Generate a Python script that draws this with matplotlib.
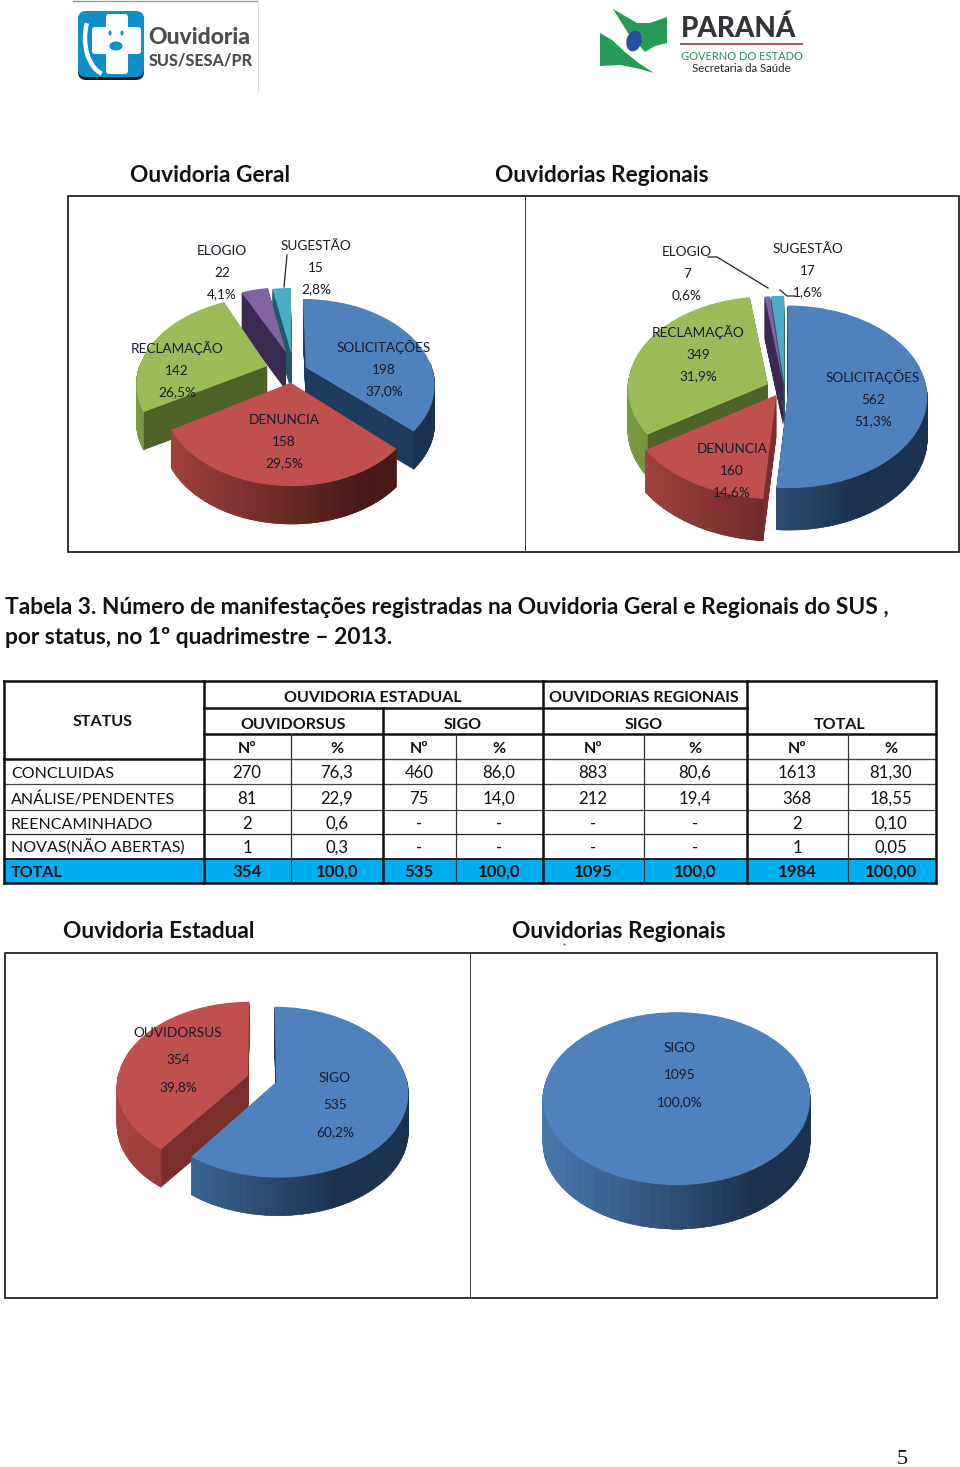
import numpy as np
import matplotlib
matplotlib.use("Agg")
import matplotlib.pyplot as plt
from matplotlib.transforms import Transform, Affine2D
from matplotlib.collections import PolyCollection
from matplotlib.patches import FancyBboxPatch, Polygon, Ellipse, Rectangle, Arc
from matplotlib.colors import to_rgb

# ---------- data ----------
geral_names = ["SOLICITAÇÕES", "DENUNCIA", "RECLAMAÇÃO", "ELOGIO", "SUGESTÃO"]
geral_values = [198, 158, 142, 22, 15]
regionais_names = ["SOLICITAÇÕES", "DENUNCIA", "RECLAMAÇÃO", "ELOGIO", "SUGESTÃO"]
regionais_values = [562, 160, 349, 7, 17]
estadual_names = ["SIGO", "OUVIDORSUS"]
estadual_values = [535, 354]
regionais2_names = ["SIGO"]
regionais2_values = [1095]

table_status = ["CONCLUIDAS", "ANÁLISE/PENDENTES", "REENCAMINHADO", "NOVAS(NÃO ABERTAS)", "TOTAL"]
col_os_n = ["270", "81", "2", "1", "354"]
col_os_p = ["76,3", "22,9", "0,6", "0,3", "100,0"]
col_se_n = ["460", "75", "-", "-", "535"]
col_se_p = ["86,0", "14,0", "-", "-", "100,0"]
col_sr_n = ["883", "212", "-", "-", "1095"]
col_sr_p = ["80,6", "19,4", "-", "-", "100,0"]
col_t_n = ["1613", "368", "2", "1", "1984"]
col_t_p = ["81,30", "18,55", "0,10", "0,05", "100,00"]

# ---------- style ----------
TOP = {"blue": "#4f81bd", "red": "#c0504d", "green": "#9bbb59", "purple": "#8064a2", "teal": "#4bacc6"}
CUT = {"blue": "#1f3b5e", "red": "#7a2f2d", "green": "#4f6228", "purple": "#3a2a52", "teal": "#215968"}
WALL_L = {"blue": "#4a78ad", "red": "#a8443f", "green": "#7c9a42", "purple": "#604a80", "teal": "#3a8ca2"}
WALL_R = {"blue": "#1c3350", "red": "#471a18", "green": "#44541f", "purple": "#2c2040", "teal": "#1a4856"}
FONT = ["Lato", "DejaVu Sans"]

fig = plt.figure(figsize=(9.6, 14.67), dpi=100, facecolor="white")
page = fig.add_axes([0, 0, 1, 1], zorder=20)
page.set_xlim(0, 960)
page.set_ylim(1467, 0)
page.axis("off")
page.patch.set_visible(False)


class Persp(Transform):
    input_dims = output_dims = 2

    def __init__(self, k):
        super().__init__()
        self.k = k

    def transform_non_affine(self, v):
        v = np.asarray(v, float)
        w = 1 + self.k * v[:, 1]
        return np.column_stack([v[:, 0] / w, v[:, 1] / w])


def pie3d(values, colors, cx, cy, rx, ry, k, depth_px, explode, radii=None, shifts=None):
    ax = fig.add_axes([(cx - 1.5 * rx) / 960, 1 - (cy + 1.5 * ry) / 1467,
                       3 * rx / 960, 3 * ry / 1467], zorder=1)
    persp = Persp(k)
    n = len(values)
    d_unit = depth_px / ry
    radii = radii or [1.0] * n
    shifts = shifts or [(0, 0)] * n
    common = dict(startangle=90, counterclock=False, explode=explode,
                  wedgeprops=dict(linewidth=0))

    def place(w, i):
        w.set_radius(radii[i])
        w.set_center((w.center[0] + shifts[i][0] / rx, w.center[1] - shifts[i][1] / ry))

    tops, _ = ax.pie(values, colors=[TOP[c] for c in colors], **common)
    mids = [np.sin(np.deg2rad((w.theta1 + w.theta2) / 2)) for w in tops]
    rank = {i: r for r, i in enumerate(np.argsort(mids)[::-1])}
    steps = int(depth_px * 1.5)
    for layer in range(steps, 0, -1):
        d = d_unit * layer / steps
        ws, _ = ax.pie(values, colors=[CUT[c] for c in colors], **common)
        for i, w in enumerate(ws):
            place(w, i)
            w.set_zorder(10 * rank[i] + 1)
            w.set_transform(persp + Affine2D().translate(0, -d) + ax.transData)
    for i, w in enumerate(tops):
        place(w, i)
        w.set_zorder(10 * rank[i] + 3)
        w.set_transform(persp + ax.transData)
        th = np.deg2rad(np.linspace(w.theta1, w.theta2, 90))
        x = w.center[0] + w.r * np.cos(th)
        y = w.center[1] + w.r * np.sin(th)
        s = 1 + k * y
        X, Y = x / s, y / s
        polys, cols = [], []
        cl, cr = np.array(to_rgb(WALL_L[colors[i]])), np.array(to_rgb(WALL_R[colors[i]]))
        for a in range(len(th) - 1):
            if np.sin(th[a]) > 0.03:
                continue
            polys.append([(X[a], Y[a]), (X[a + 1], Y[a + 1]),
                          (X[a + 1], Y[a + 1] - d_unit), (X[a], Y[a] - d_unit)])
            t = np.clip((X[a] + 1) / 1.55, 0, 1)
            cols.append(cl * (1 - t) + cr * t)
        if polys:
            pc = PolyCollection(polys, facecolors=cols, edgecolors=cols, linewidths=0.4,
                                zorder=10 * rank[i] + 2, clip_on=False)
            ax.add_collection(pc)
    ax.set_aspect("auto")
    ax.set_xlim(-1.5, 1.5)
    ax.set_ylim(-1.5, 1.5)
    ax.axis("off")


pie3d(geral_values, ["blue", "red", "green", "purple", "teal"], 287, 373, 130, 85, 0.19, 38,
      [0.16, 0.16, 0.16, 0.2, 0.2], radii=[0.98, 0.95, 1.0, 1.0, 1.0],
      shifts=[(0, 0), (6, -4), (0, -3), (7, -5), (7, -3)])
pie3d(regionais_values, ["blue", "red", "green", "purple", "teal"], 776, 393, 142, 93, 0.04, 42,
      [0.063, 0.063, 0.07, 0.09, 0.09], radii=[0.98, 1.07, 0.99, 1.0, 1.0],
      shifts=[(3, 0), (5, -3), (1, -6), (9, 0), (9, 0)])
pie3d(estadual_values, ["blue", "red"], 260.5, 1078, 133, 85, 0.12, 38, [0.115, 0.115],
      radii=[0.98, 0.98], shifts=[(1, 1), (2, 1)])
pie3d(regionais2_values, ["blue"], 676.5, 1090, 133, 85.6, 0.1, 44, [0])


def txt(x, y, s, size, weight="normal", ha="left", color="#111111", family=None):
    page.text(x, y, s, fontsize=size, fontweight=weight, ha=ha, va="baseline",
              color=color, family=family or FONT)


def pct(v, values):
    return f"{100 * v / sum(values):.1f}".replace(".", ",") + "%"


def pie_labels(names, values, spots, dy):
    for name, v, (x, y) in zip(names, values, spots):
        for j, s in enumerate([name, str(v), pct(v, values)]):
            txt(x, y + 6 + j * dy, s, 9.8, ha="center", color="#1a1a2a")


pie_labels(geral_names, geral_values,
           [(384, 346), (284, 418), (177, 347), (222, 249), (316, 244)], 21.7)
pie_labels(regionais_names, regionais_values,
           [(873, 376), (732, 447), (698, 331), (687, 250), (808, 247)], 21.7)
pie_labels(estadual_names, estadual_values, [(335, 1076), (178, 1031)], 27)
pie_labels(regionais2_names, regionais2_values, [(680, 1046)], 27)

# leader lines
page.plot([287, 284], [255, 287], color="#222222", lw=0.9)
page.plot([708, 717, 768], [257, 257, 288], color="#222222", lw=0.9)
page.plot([795, 787, 780], [296, 296, 290], color="#222222", lw=0.9)

# frames
for x0, x1, xm, y0, y1 in [(68, 959, 525, 196, 552), (5, 937, 470, 953, 1298)]:
    page.add_patch(Rectangle((x0, y0), x1 - x0, y1 - y0, fill=False, ec="#111111", lw=1.2))
    page.plot([xm, xm], [y0, y1], color="#333333", lw=0.7)

# titles
txt(130, 182, "Ouvidoria Geral", 16.3, "bold", color="#111111")
txt(495, 182, "Ouvidorias Regionais", 16.3, "bold")
txt(63, 938, "Ouvidoria Estadual", 16.3, "bold")
txt(512, 938, "Ouvidorias Regionais", 16.3, "bold")
txt(5, 614, "Tabela 3. Número de manifestações registradas na Ouvidoria Geral e Regionais do SUS ,", 16.4, "bold")
txt(5, 644, "por status, no 1º quadrimestre – 2013.", 16.4, "bold")
txt(902, 1464, "5", 16, ha="center", family=["Liberation Serif"])
page.plot([564], [944], marker=".", ms=1, color="#555555")

# ---------- table ----------
xs = [4, 204, 291, 383, 456, 543, 644, 747, 848, 936]
ys = [681, 708, 734, 759, 784, 810, 834, 859, 883]
page.add_patch(Rectangle((xs[0], ys[7]), xs[-1] - xs[0], ys[8] - ys[7], fc="#00aeef", ec="none"))
dark = "#111111"


def hl(y, a, b, lw=1.8, c=dark):
    page.plot([a, b], [y, y], color=c, lw=lw, solid_capstyle="projecting")


def vl(x, a, b, lw=1.8, c=dark):
    page.plot([x, x], [a, b], color=c, lw=lw, solid_capstyle="projecting")


hl(ys[0], xs[0], xs[-1]); hl(ys[8], xs[0], xs[-1])
hl(ys[1], xs[1], xs[7]); hl(ys[2], xs[1], xs[-1])
hl(ys[3], xs[0], xs[1]); hl(ys[3], xs[1], xs[-1], 1.0, "#444444")
hl(ys[4], xs[0], xs[-1], 0.9, "#444444"); hl(ys[5], xs[0], xs[-1], 0.9, "#444444")
hl(ys[6], xs[0], xs[-1], 0.9, "#222222"); hl(ys[7], xs[0], xs[-1], 1.3)
for x in [xs[0], xs[1], xs[5], xs[7], xs[9]]:
    vl(x, ys[0], ys[8])
vl(xs[3], ys[1], ys[8])
for x in [xs[2], xs[4], xs[6], xs[8]]:
    vl(x, ys[2], ys[8], 0.9, "#333333")

TS = 11.5
for x, y, s in [(373, 696, "OUVIDORIA ESTADUAL"), (644, 696, "OUVIDORIAS REGIONAIS"),
                (103, 720, "STATUS"), (293, 723, "OUVIDORSUS"), (463, 723, "SIGO"),
                (644, 723, "SIGO"), (840, 723, "TOTAL")]:
    txt(x, y + 6, s, TS, "bold", ha="center")
col_centers = [247, 337, 419, 499, 593, 695, 797, 891]
for x, s in zip(col_centers, ["Nº", "%"] * 4):
    txt(x, 753, s, TS, "bold", ha="center")
row_base = [778, 804, 829, 853, 877]
columns = [col_os_n, col_os_p, col_se_n, col_se_p, col_sr_n, col_sr_p, col_t_n, col_t_p]
for r, yb in enumerate(row_base):
    w = "bold" if r == 4 else "normal"
    txt(11, yb, table_status[r], TS, w)
    for x, col in zip(col_centers, columns):
        txt(x, yb, col[r], TS + 0.6, w, ha="center")

# ---------- logos ----------
page.plot([73, 257], [0.5, 0.5], color="#999999", lw=1)
page.plot([257.5, 257.5], [0, 92], color="#dddddd", lw=0.8)
page.add_patch(FancyBboxPatch((81, 15), 60, 62, boxstyle="round,pad=3,rounding_size=8",
                              fc="#1a1a1a", ec="none"))
page.add_patch(FancyBboxPatch((81, 14), 60, 60, boxstyle="round,pad=3,rounding_size=8",
                              fc="#0f8fc8", ec="none"))
page.add_patch(FancyBboxPatch((107, 15), 20, 58, boxstyle="round,pad=1,rounding_size=3", fc="white", ec="none"))
page.add_patch(FancyBboxPatch((93, 28), 47, 25, boxstyle="round,pad=1,rounding_size=3", fc="white", ec="none"))
page.add_patch(Ellipse((116, 46), 13, 9, fc="#0f8fc8", ec="none"))
page.add_patch(Ellipse((110, 33), 3, 5, fc="#0f8fc8", ec="none"))
page.add_patch(Ellipse((122, 33), 3, 5, fc="#0f8fc8", ec="none"))
page.add_patch(Arc((108, 38), 46, 74, theta1=100, theta2=215, ec="white", lw=3.2))
txt(148, 44, "Ouvidoria", 16.5, "black", color="#4d4d4d")
txt(149, 65, "SUS/SESA/PR", 11.6, "black", color="#4d4d4d")

GREEN = "#279b55"
page.add_patch(Polygon([(613, 9), (625, 16), (637, 23), (650, 23), (667, 17), (667, 43),
                        (655, 46), (645, 52), (628, 33)], fc=GREEN, ec="none"))
page.add_patch(Polygon([(600, 33), (612, 40), (625, 52), (640, 64), (654, 73), (640, 69),
                        (620, 65), (600, 66)], fc=GREEN, ec="none"))
page.add_patch(Ellipse((634, 41), 15, 21, angle=15, fc="#2c4da0", ec="none"))
txt(681, 37, "PARANÁ", 20, "black", color="#333338")
page.plot([681, 802], [44, 44], color="#a8535c", lw=1.4)
txt(681, 59.5, "GOVERNO DO ESTADO", 8.0, color="#2a8a5a")
txt(692, 72, "Secretaria da Saúde", 8.2, color="#222222")

fig.savefig("out.png", dpi=100, facecolor="white")
